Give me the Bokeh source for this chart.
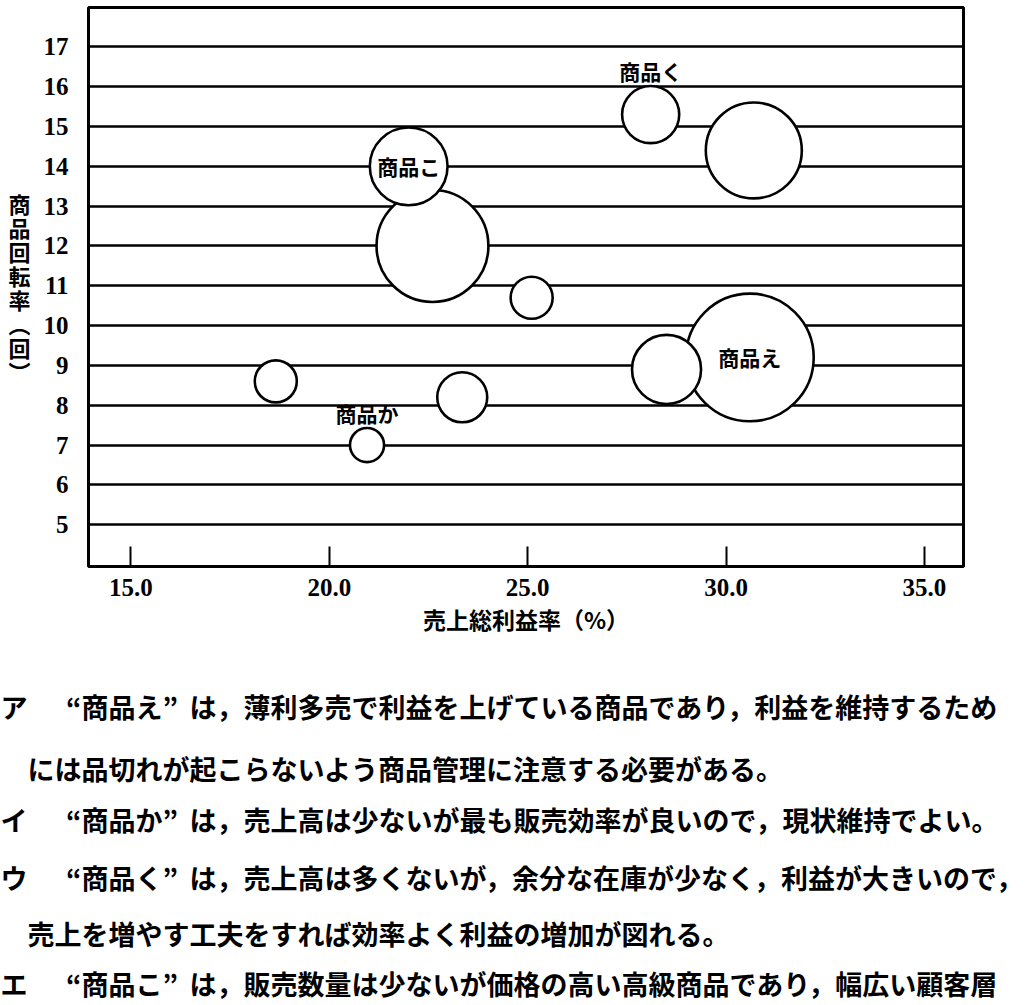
from bokeh.plotting import figure
from bokeh.models import Range1d, FixedTicker, PrintfTickFormatter, ColumnDataSource
from bokeh.core.properties import value
from bokeh.embed import file_html
from bokeh.resources import INLINE

# ---- data ----
product_names = ["", "商品こ", "", "", "", "商品か", "商品え", "", "商品く", ""]
gross_margin = [22.6, 22.0, 25.1, 18.65, 23.35, 20.95, 30.6, 28.5, 28.1, 30.7]   # 売上総利益率（%）
turnover = [12.0, 14.0, 10.7, 8.6, 8.2, 7.0, 9.2, 8.9, 15.3, 14.4]               # 商品回転率（回）
bubble_size = [1.41, 0.98, 0.53, 0.53, 0.63, 0.43, 1.61, 0.87, 0.72, 1.21]      # 売上高 (bubble radius)
labels_inside = ["商品こ", "商品え"]
labels_above = ["商品か", "商品く"]
x_ticks = [15, 20, 25, 30, 35]
y_ticks = [5, 6, 7, 8, 9, 10, 11, 12, 13, 14, 15, 16, 17]
x_title = "売上総利益率（%）"
y_title = "商品回転率（回）"
options_text = [
    "ア　“商品え”は，薄利多売で利益を上げている商品であり，利益を維持するため",
    "　には品切れが起こらないよう商品管理に注意する必要がある。",
    "イ　“商品か”は，売上高は少ないが最も販売効率が良いので，現状維持でよい。",
    "ウ　“商品く”は，売上高は多くないが，余分な在庫が少なく，利益が大きいので，",
    "　売上を増やす工夫をすれば効率よく利益の増加が図れる。",
    "エ　“商品こ”は，販売数量は少ないが価格の高い高級商品であり，幅広い顧客層",
]

JP = "Noto Sans CJK JP"
NUM = "Liberation Serif"
W = 1035

x0, x1 = 13.929, 35.986
y0, y1 = 3.95, 17.99

p = figure(width=W, height=640, output_backend="svg", toolbar_location=None,
           x_range=Range1d(x0, x1), y_range=Range1d(y0, y1),
           min_border_left=88, min_border_right=72, min_border_top=7, min_border_bottom=74)
p.outline_line_color = "black"
p.outline_line_width = 3
p.background_fill_color = "white"
p.border_fill_color = "white"

p.xaxis.ticker = FixedTicker(ticks=x_ticks)
p.xaxis.formatter = PrintfTickFormatter(format="%.1f")
p.xaxis.major_tick_in = 20
p.xaxis.major_tick_out = 0
p.xaxis.minor_tick_line_color = None
p.xaxis.major_tick_line_color = "black"
p.xaxis.major_tick_line_width = 2
p.xaxis.axis_line_color = None
p.xaxis.major_label_standoff = 12
p.xaxis.major_label_text_font = NUM
p.xaxis.major_label_text_font_style = "bold"
p.xaxis.major_label_text_font_size = "25px"
p.xaxis.major_label_text_color = "black"
p.xaxis.axis_label = x_title
p.xaxis.axis_label_text_font = JP
p.xaxis.axis_label_text_font_style = "bold"
p.xaxis.axis_label_text_font_size = "23px"
p.xaxis.axis_label_text_color = "black"
p.xaxis.axis_label_standoff = 3

p.yaxis.ticker = FixedTicker(ticks=y_ticks)
p.yaxis.major_tick_in = 0
p.yaxis.major_tick_out = 0
p.yaxis.minor_tick_line_color = None
p.yaxis.axis_line_color = None
p.yaxis.major_label_standoff = 20
p.yaxis.major_label_text_font = NUM
p.yaxis.major_label_text_font_style = "bold"
p.yaxis.major_label_text_font_size = "25px"
p.yaxis.major_label_text_color = "black"
# upright stacked (vertical writing) y-axis title
p.yaxis.axis_label = "\n".join(y_title.replace("（", "︵").replace("）", "︶"))
p.yaxis.axis_label_orientation = "horizontal"
p.yaxis.axis_label_text_font = JP
p.yaxis.axis_label_text_font_style = "bold"
p.yaxis.axis_label_text_font_size = "22px"
p.yaxis.axis_label_text_line_height = 0.75
p.yaxis.axis_label_text_color = "black"
p.yaxis.axis_label_standoff = 10

p.xgrid.grid_line_color = None
p.ygrid.grid_line_color = "black"
p.ygrid.grid_line_width = 2.6
p.ygrid.grid_line_alpha = 1.0

src = ColumnDataSource(dict(x=gross_margin, y=turnover, r=bubble_size, name=product_names))
p.circle(x="x", y="y", radius="r", source=src, fill_color="white", fill_alpha=1.0,
         line_color="black", line_width=2.6)

ins = [i for i, n in enumerate(product_names) if n in labels_inside]
p.text(x=[gross_margin[i] for i in ins], y=[turnover[i] for i in ins],
       text=[product_names[i] for i in ins], text_font=value(JP), text_font_style="bold",
       text_font_size="21px", text_align="center", text_baseline="middle", text_color="black")
abv = [i for i, n in enumerate(product_names) if n in labels_above]
p.text(x=[gross_margin[i] for i in abv], y=[turnover[i] + bubble_size[i] for i in abv],
       text=[product_names[i] for i in abv], text_font=value(JP), text_font_style="bold",
       text_font_size="21px", text_align="center", text_baseline="bottom", text_color="black")

# ---- answer options below the chart (full-width character grid) ----
H2 = 365
pitch = 27
q = figure(width=W, height=H2, output_backend="svg", toolbar_location=None,
           x_range=Range1d(0, W), y_range=Range1d(H2, 0),
           x_axis_type=None, y_axis_type=None, min_border=0)
q.outline_line_color = None
q.xgrid.grid_line_color = None
q.ygrid.grid_line_color = None
line_y = [66, 128, 179, 237, 293, 343]

sx, sy, st, sa = [], [], [], []
for line, yy in zip(options_text, line_y):
    if line[0] == "　":
        sx.append(pitch); sy.append(yy); st.append(line[1:]); sa.append("left")
    else:
        end = line.index("”") + 1
        quoted = line[2:end]
        rest = line[end:]
        sx += [0, (2 + len(quoted) / 2) * pitch, (2 + len(quoted)) * pitch]
        sy += [yy, yy, yy]
        st += [line[0], quoted, rest]
        sa += ["left", "center", "left"]

q.text(x=sx, y=sy, text=st, text_align=sa, text_font=value(JP),
       text_font_style="bold", text_font_size="27px",
       text_baseline="middle", text_color="black")

open("out.html", "w").write(file_html([p, q], INLINE))
